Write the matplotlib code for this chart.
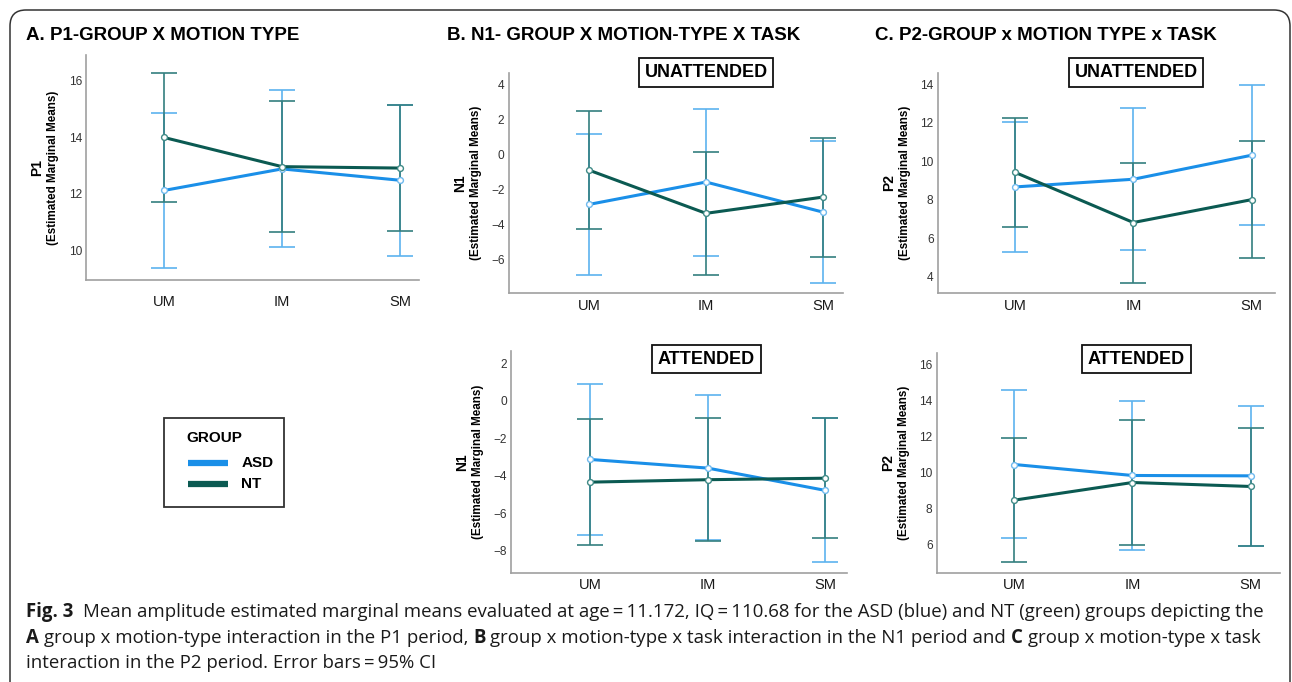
import matplotlib
matplotlib.use("Agg")
import matplotlib.pyplot as plt
from matplotlib.patches import FancyBboxPatch, Rectangle
from matplotlib.lines import Line2D
from matplotlib.transforms import IdentityTransform

# ---------------- data ----------------
categories = ["UM", "IM", "SM"]
groups = ["ASD", "NT"]

# Panel A: P1 group x motion type
p1_asd_mean = [12.12, 12.88, 12.48]
p1_asd_lo = [9.40, 10.12, 9.82]
p1_asd_hi = [14.85, 15.65, 15.12]
p1_nt_mean = [13.99, 12.96, 12.91]
p1_nt_lo = [11.71, 10.65, 10.69]
p1_nt_hi = [16.28, 15.28, 15.14]

# Panel B: N1 unattended
n1u_asd_mean = [-2.86, -1.58, -3.30]
n1u_asd_lo = [-6.90, -5.79, -7.33]
n1u_asd_hi = [1.16, 2.59, 0.78]
n1u_nt_mean = [-0.90, -3.37, -2.44]
n1u_nt_lo = [-4.29, -6.88, -5.85]
n1u_nt_hi = [2.46, 0.15, 0.91]

# Panel B: N1 attended
n1a_asd_mean = [-3.12, -3.58, -4.77]
n1a_asd_lo = [-7.14, -7.44, -8.60]
n1a_asd_hi = [0.93, 0.33, -0.93]
n1a_nt_mean = [-4.33, -4.20, -4.12]
n1a_nt_lo = [-7.69, -7.46, -7.33]
n1a_nt_hi = [-0.95, -0.93, -0.93]

# Panel C: P2 unattended
p2u_asd_mean = [8.66, 9.06, 10.31]
p2u_asd_lo = [5.28, 5.37, 6.69]
p2u_asd_hi = [12.06, 12.77, 13.95]
p2u_nt_mean = [9.42, 6.81, 8.00]
p2u_nt_lo = [6.58, 3.69, 4.97]
p2u_nt_hi = [12.25, 9.89, 11.07]

# Panel C: P2 attended
p2a_asd_mean = [10.44, 9.83, 9.81]
p2a_asd_lo = [6.35, 5.69, 5.93]
p2a_asd_hi = [14.56, 13.96, 13.70]
p2a_nt_mean = [8.46, 9.44, 9.22]
p2a_nt_lo = [5.02, 5.96, 5.93]
p2a_nt_hi = [11.91, 12.93, 12.48]

# ---------------- style ----------------
W, H = 1292, 682
ASD_LINE = "#1a8fe8"
ASD_BAR = "#5cb3ef"
ASD_MK = "#6fb9ee"
NT_LINE = "#0b5a52"
NT_BAR = "#347f7f"
NT_MK = "#3f8a86"
FONT = "Liberation Sans"
CAP_FONT = ["Open Sans", "DejaVu Sans"]

fig = plt.figure(figsize=(W / 100, H / 100), dpi=100)
fig.patch.set_facecolor("white")


def px_axes(l, t, r, b):
    return fig.add_axes([l / W, 1 - b / H, (r - l) / W, (b - t) / H])


def panel(box, ylim, yticks, xlim, asd, nt, ylab, xpad):
    l, t, r, b = box
    ax = px_axes(l, t, r, b)
    x = list(range(len(categories)))
    for (m, lo, hi), bar_c, z in ((asd, ASD_BAR, 2), (nt, NT_BAR, 3)):
        ax.errorbar(x, m, yerr=[[mm - ll for mm, ll in zip(m, lo)],
                                [hh - mm for mm, hh in zip(m, hi)]],
                    fmt="none", ecolor=bar_c, elinewidth=1.2, capsize=9.7,
                    capthick=1.2, zorder=z)
    ax.plot(x, asd[0], color=ASD_LINE, lw=2.2, marker="o", ms=4.2,
            mfc="white", mec=ASD_MK, mew=1.0, zorder=4)
    ax.plot(x, nt[0], color=NT_LINE, lw=2.2, marker="o", ms=4.2,
            mfc="white", mec=NT_MK, mew=1.0, zorder=5)
    ax.set_xlim(*xlim)
    ax.set_ylim(*ylim)
    ax.set_yticks(yticks)
    ax.set_xticks(x)
    ax.set_xticklabels(categories, fontsize=10.5, family=FONT, color="#1a1a1a")
    for lab in ax.get_yticklabels():
        lab.set_fontsize(8.6)
        lab.set_family(FONT)
        lab.set_color("#333333")
    ax.tick_params(axis="both", length=0)
    ax.tick_params(axis="y", pad=3)
    ax.tick_params(axis="x", pad=xpad)
    for s in ("top", "right"):
        ax.spines[s].set_visible(False)
    for s in ("left", "bottom"):
        ax.spines[s].set_color("#a0a0a0")
        ax.spines[s].set_linewidth(1.2)
    ax.set_facecolor("none")
    # y labels
    yc = (t + b) / 2
    fig.text((l - 49) / W, 1 - yc / H, ylab, rotation=90, ha="center",
             va="center", fontsize=10, fontweight="bold", family=FONT)
    fig.text((l - 33) / W, 1 - yc / H, "(Estimated Marginal Means)",
             rotation=90, ha="center", va="center", fontsize=8.4,
             fontweight="bold", family=FONT)
    return ax


panel((86, 55, 419, 280), (8.96, 16.9), [10, 12, 14, 16], (-0.661, 2.161),
      (p1_asd_mean, p1_asd_lo, p1_asd_hi), (p1_nt_mean, p1_nt_lo, p1_nt_hi),
      "P1", 11)
panel((508.7, 72.7, 843, 293.3), (-7.94, 4.67), [-6, -4, -2, 0, 2, 4],
      (-0.686, 2.171),
      (n1u_asd_mean, n1u_asd_lo, n1u_asd_hi), (n1u_nt_mean, n1u_nt_lo, n1u_nt_hi),
      "N1", 4)
panel((937.7, 72.7, 1275, 293.3), (3.13, 14.6), [4, 6, 8, 10, 12, 14],
      (-0.653, 2.197),
      (p2u_asd_mean, p2u_asd_lo, p2u_asd_hi), (p2u_nt_mean, p2u_nt_lo, p2u_nt_hi),
      "P2", 4)
panel((511, 350.7, 846.7, 572.7), (-9.16, 2.68), [-8, -6, -4, -2, 0, 2],
      (-0.672, 2.182),
      (n1a_asd_mean, n1a_asd_lo, n1a_asd_hi), (n1a_nt_mean, n1a_nt_lo, n1a_nt_hi),
      "N1", 4)
panel((936.7, 352.7, 1280, 572.7), (4.43, 16.65), [6, 8, 10, 12, 14, 16],
      (-0.657, 2.249),
      (p2a_asd_mean, p2a_asd_lo, p2a_asd_hi), (p2a_nt_mean, p2a_nt_lo, p2a_nt_hi),
      "P2", 4)

# ---------------- titles ----------------
for xp, txt in ((26, "A. P1-GROUP X MOTION TYPE"),
                (447, "B. N1- GROUP X MOTION-TYPE X TASK"),
                (875, "C. P2-GROUP x MOTION TYPE x TASK")):
    fig.text(xp / W, 1 - 40.5 / H, txt, ha="left", va="baseline",
             fontsize=13.5, fontweight="bold", family=FONT)

# boxed task labels
for xc, yc, txt in ((706, 72.5, "UNATTENDED"), (1136, 72.5, "UNATTENDED"),
                    (706.5, 359, "ATTENDED"), (1136.5, 359, "ATTENDED")):
    fig.text(xc / W, 1 - yc / H, txt, ha="center", va="center",
             fontsize=13, fontweight="bold", family=FONT,
             bbox=dict(boxstyle="square,pad=0.32", fc="white", ec="#111111",
                       lw=1.3))

# ---------------- legend ----------------
fig.add_artist(Rectangle((164, H - 507), 120, 89, transform=IdentityTransform(),
                         fill=False, ec="#333333", lw=1.3))
fig.text(186.5 / W, 1 - 438 / H, "GROUP", ha="left", va="center",
         fontsize=11, fontweight="bold", family=FONT)
for yv, name, col in ((462.7, groups[0], ASD_LINE), (484, groups[1], NT_LINE)):
    fig.add_artist(Line2D([188 / W, 228 / W], [1 - yv / H, 1 - yv / H],
                          transform=fig.transFigure, color=col, lw=4.5,
                          solid_capstyle="butt"))
    fig.text(241.5 / W, 1 - yv / H, name, ha="left", va="center",
             fontsize=11, fontweight="bold", family=FONT)

# ---------------- border ----------------
fig.add_artist(FancyBboxPatch((10, -40), 1280, H - 10 + 40,
                              boxstyle="round,pad=0,rounding_size=16",
                              transform=IdentityTransform(), fill=False,
                              ec="#333333", lw=1.1))

# ---------------- caption ----------------
renderer = fig.canvas.get_renderer()


def width_of(s, size, bold):
    t = fig.text(0, 0, s, fontsize=size, fontweight="bold" if bold else "normal",
                 family=CAP_FONT)
    w = t.get_window_extent(renderer).width
    t.remove()
    return w


line1 = [("Fig. 3", True, 2),
         ("Mean amplitude estimated marginal means evaluated at age\u2009=\u200911.172, "
          "IQ\u2009=\u2009110.68 for the ASD (blue) and NT (green) groups depicting the",
          False, 0)]
line2 = [("A", True, 1),
         ("group x motion-type interaction in the P1 period,", False, 1),
         ("B", True, 1),
         ("group x motion-type x task interaction in the N1 period and", False, 1),
         ("C", True, 1),
         ("group x motion-type x task", False, 0)]
line3 = [("interaction in the P2 period. Error bars\u2009=\u200995% CI", False, 0)]


def line_width(pieces, size):
    sp = width_of("a a", size, False) - width_of("aa", size, False)
    return sum(width_of(s, size, b) + g * sp for s, b, g in pieces)


base = 11.0
target = 1262 - 26
cap_size = base * target / line_width(line1, base)


def draw_line(pieces, y_base, size):
    sp = width_of("a a", size, False) - width_of("aa", size, False)
    x = 26
    for s, b, g in pieces:
        t = fig.text(x / W, 1 - y_base / H, s, fontsize=size,
                     fontweight="bold" if b else "normal", family=CAP_FONT,
                     ha="left", va="baseline", color="#1a1a1a")
        x += t.get_window_extent(renderer).width + g * sp


draw_line(line1, 617, cap_size)
draw_line(line2, 643, cap_size)
draw_line(line3, 668, cap_size)

fig.savefig("out.png", dpi=100, facecolor="white")
